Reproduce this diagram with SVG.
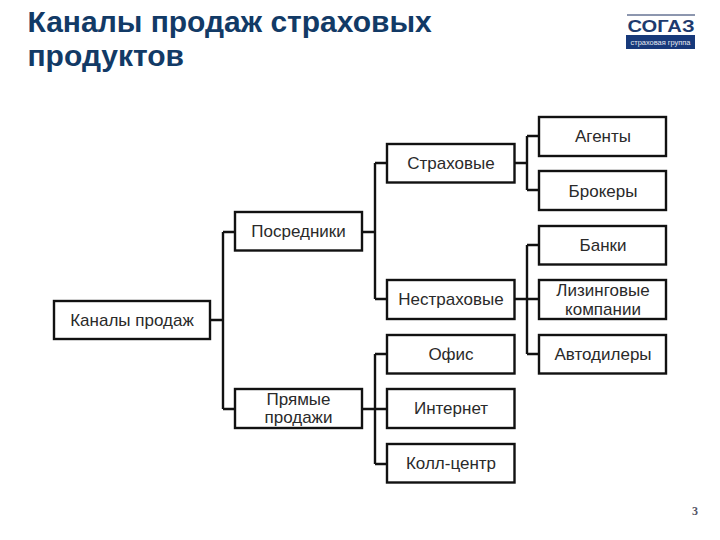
<svg xmlns="http://www.w3.org/2000/svg" width="720" height="540" viewBox="0 0 720 540">
<style>
.t{font-family:"Liberation Sans",Arial,sans-serif;font-weight:700;font-size:30px;fill:#123a66}
.b rect{fill:#fff;stroke:#111;stroke-width:2.4}
.b text{font-family:"Liberation Sans",Arial,sans-serif;font-size:17px;fill:#2a2a2a;text-anchor:middle}
#connectors path{fill:none;stroke:#111;stroke-width:2.4}
</style>
<rect width="720" height="540" fill="#fff"/>
<text class="t" x="27.500" y="32">Каналы продаж страховых</text>
<text class="t" x="27.500" y="66">продуктов</text>
<g id="logo">
<path d="M627 15H695" stroke="#1b2f5e" stroke-width="1"/>
<text x="661" y="32" text-anchor="middle" font-family="'Liberation Sans',Arial,sans-serif" font-weight="700" font-size="17" textLength="67" lengthAdjust="spacingAndGlyphs" fill="#1d3a6e">СОГАЗ</text>
<rect x="626" y="35" width="69" height="14" fill="#17397a"/>
<text x="660.500" y="45" text-anchor="middle" font-family="'Liberation Sans',Arial,sans-serif" font-size="7" textLength="60" lengthAdjust="spacingAndGlyphs" fill="#e4e9f2">страховая группа</text>
</g>
<g id="connectors">
<path d="M210 320H223M223 232V409M223 232H235M223 409H235"/>
<path d="M362 232H375M375 163V299M375 163H387M375 299H387"/>
<path d="M362 409H375M375 354V464M375 354H387M375 409H387M375 464H387"/>
<path d="M514 163H527M527 136V190M527 136H539M527 190H539"/>
<path d="M514 299H539M527 245V354M527 245H539M527 354H539"/>
</g>
<g id="n-kanaly" class="b"><rect x="54" y="301" width="156" height="38"/><text x="132" y="326">Каналы продаж</text></g>
<g id="n-posredniki" class="b"><rect x="235" y="212" width="127" height="38.500"/><text x="298.500" y="237">Посредники</text></g>
<g id="n-pryamye" class="b"><rect x="235" y="389" width="127" height="39"/><text x="298.500" y="405">Прямые</text><text x="298.500" y="423">продажи</text></g>
<g id="n-strahovye" class="b"><rect x="387" y="144" width="127.500" height="38.500"/><text x="451" y="169">Страховые</text></g>
<g id="n-nestrahovye" class="b"><rect x="387" y="280" width="127.500" height="39"/><text x="451" y="305">Нестраховые</text></g>
<g id="n-ofis" class="b"><rect x="387" y="335" width="127.500" height="38.500"/><text x="451" y="360">Офис</text></g>
<g id="n-internet" class="b"><rect x="387" y="389" width="127.500" height="39"/><text x="451" y="414">Интернет</text></g>
<g id="n-kollcentr" class="b"><rect x="387" y="444" width="127.500" height="38.500"/><text x="451" y="469">Колл-центр</text></g>
<g id="n-agenty" class="b"><rect x="539" y="117" width="127" height="39"/><text x="603" y="142">Агенты</text></g>
<g id="n-brokery" class="b"><rect x="539" y="171" width="127" height="39"/><text x="603" y="197">Брокеры</text></g>
<g id="n-banki" class="b"><rect x="539" y="226" width="127" height="38.500"/><text x="603" y="251">Банки</text></g>
<g id="n-lizing" class="b"><rect x="539" y="280" width="127" height="39"/><text x="603" y="296">Лизинговые</text><text x="603" y="315">компании</text></g>
<g id="n-avto" class="b"><rect x="539" y="335" width="127" height="38.500"/><text x="603" y="360">Автодилеры</text></g>
<text x="695" y="515" text-anchor="middle" font-family="'Liberation Serif',serif" font-size="12" font-weight="700" fill="#556">3</text>
</svg>
